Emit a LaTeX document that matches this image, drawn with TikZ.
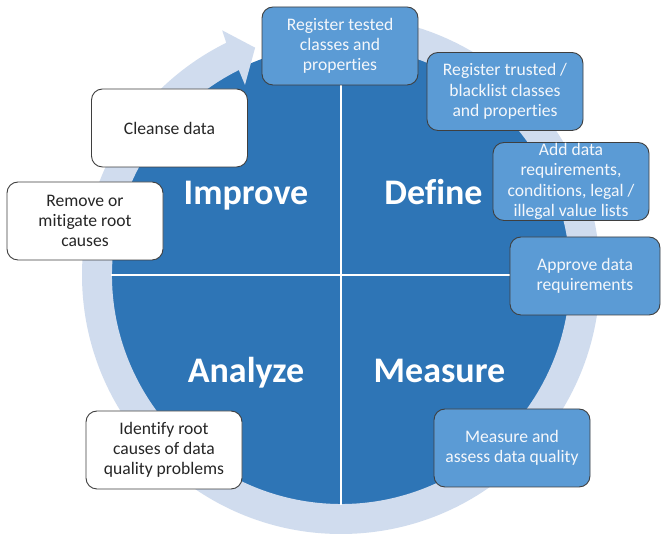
\documentclass[tikz,border=0pt]{standalone}
\usepackage{fontspec}
\setmainfont{Carlito}[Ligatures=NoCommon]
\usetikzlibrary{calc}
\definecolor{circleblue}{HTML}{2E75B6}
\definecolor{ringblue}{HTML}{D0DCEE}
\definecolor{boxblue}{HTML}{5B9BD5}
\definecolor{boxedge}{HTML}{3F3F3F}
\definecolor{darktext}{HTML}{262626}
\definecolor{lighttext}{HTML}{F4F7FB}
\tikzset{
  stepbox/.style={rounded corners=11pt, draw=boxedge, line width=0.9pt,
    minimum width=156pt, minimum height=78pt, inner sep=0pt,
    align=center, font=\fontsize{17.6}{20.2}\selectfont},
  bluebox/.style={stepbox, fill=boxblue, text=lighttext},
  whitebox/.style={stepbox, fill=white, text=darktext},
  phase/.style={anchor=base, text=white, font=\fontsize{36}{42}\selectfont\bfseries},
  divider/.style={white, line width=2.6pt}
}
\begin{document}
\begin{tikzpicture}[x=1pt, y=1pt]
  \useasboundingbox (0,0) rectangle (661,534);
  \fill[white] (0,0) rectangle (661,534);

  \coordinate (C) at (341,259);

  % cycle disc
  \fill[circleblue] (C) circle[radius=230pt];

  % circular arrow around the disc
  \fill[ringblue, shift={(C)}]
    (116.5:229pt) arc[start angle=116.5, end angle=452, radius=229pt]
    -- (452:259pt) arc[start angle=452, end angle=116.3, radius=259pt]
    -- (115.9:272pt) -- (110.7:243pt) -- (116.8:213pt) -- cycle;

  % quadrant dividers
  \coordinate (T) at ($(C)+(0,230)$);
  \coordinate (B) at ($(C)+(0,-230)$);
  \coordinate (L) at ($(C)+(-230,0)$);
  \coordinate (R) at ($(C)+(230,0)$);
  \draw[divider] (T) -- (B);
  \draw[divider] (L) -- (R);

  % phase labels
  \node[phase] (improve) at (246,329) {Improve};
  \node[phase] (define)  at (433.5,329) {Define};
  \node[phase] (analyze) at (246,151) {Analyze};
  \node[phase] (measure) at (439.5,151) {Measure};

  % activity boxes
  \node[bluebox] (tested) at (340,488) {Register tested\\classes and\\properties};
  \node[bluebox] (trusted) at (505,442.5) {Register trusted /\\blacklist classes\\and properties};
  \node[bluebox] (reqs) at (571,352.5) {Add data\\requirements,\\conditions, legal /\\illegal value lists};
  \node[bluebox, minimum width=150pt] (approve) at (585,258) {Approve data\\requirements};
  \node[bluebox] (assess) at (512,86) {Measure and\\assess data quality};
  \node[whitebox] (identify) at (164,84) {Identify root\\causes of data\\quality problems};
  \node[whitebox] (remove) at (85,313) {Remove or\\mitigate root\\causes};
  \node[whitebox] (cleanse) at (169.5,406) {Cleanse data};
\end{tikzpicture}
\end{document}
